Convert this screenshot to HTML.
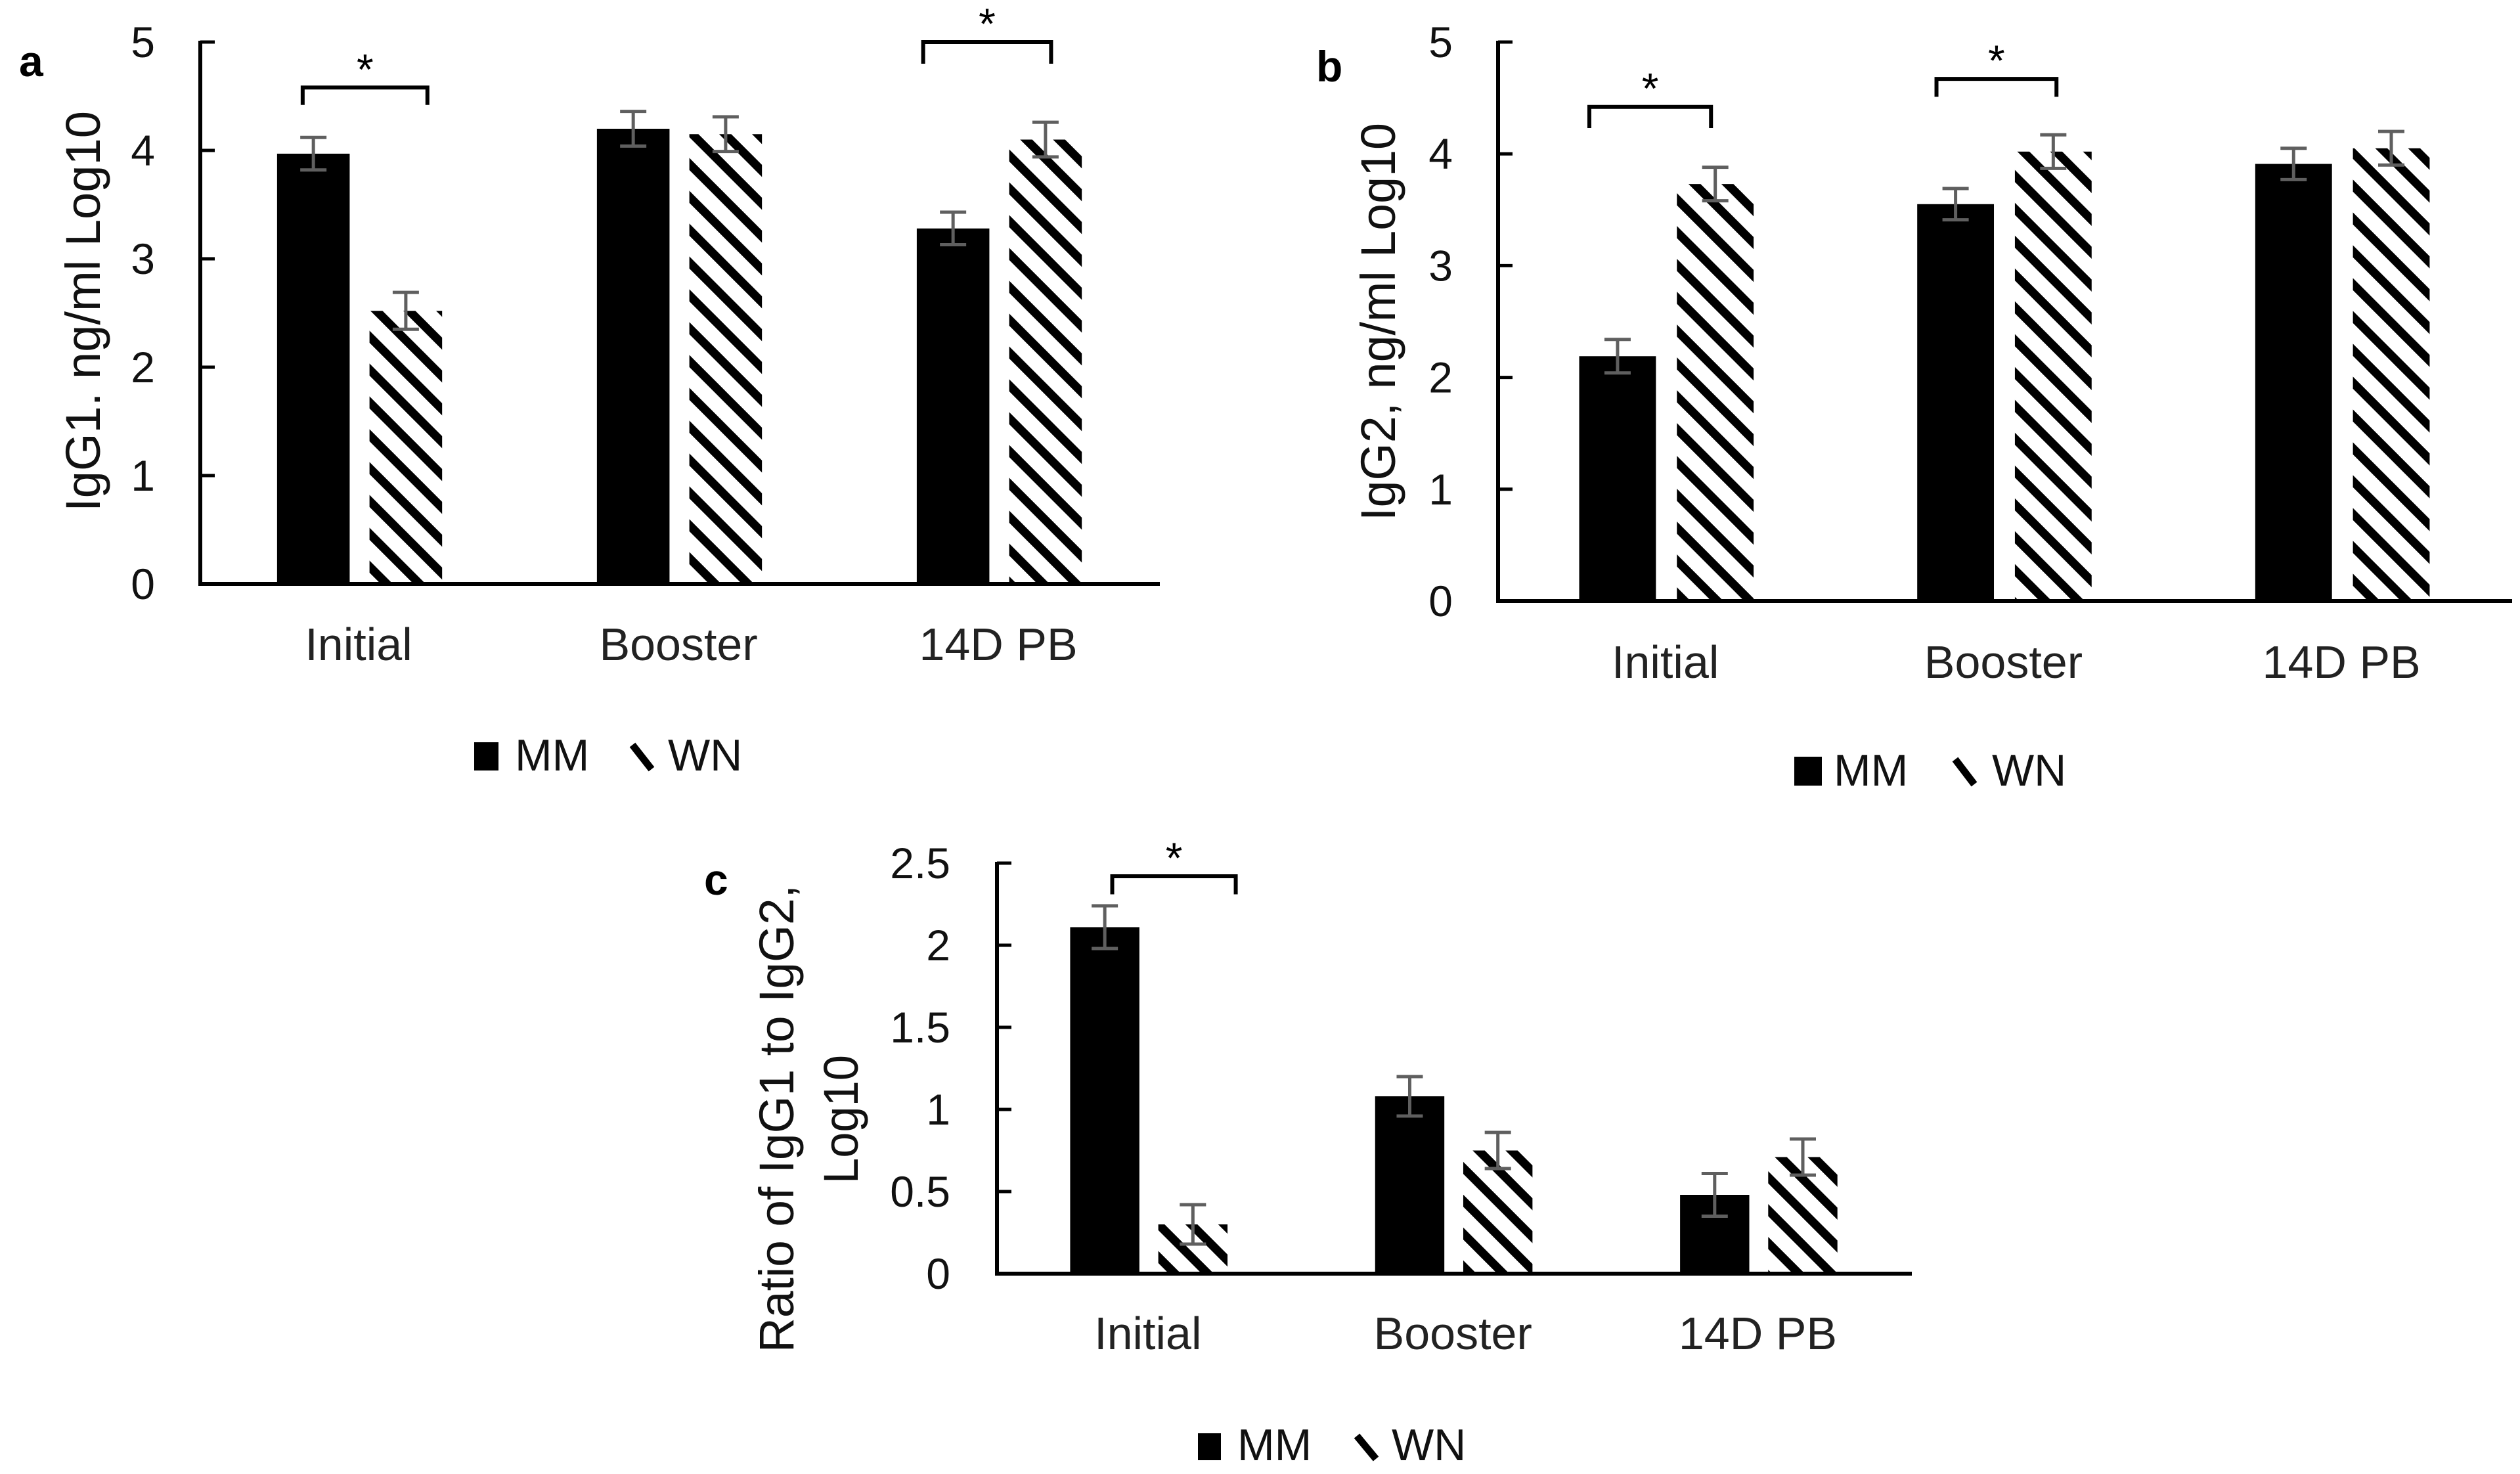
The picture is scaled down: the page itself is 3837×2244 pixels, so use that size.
<!DOCTYPE html>
<html>
<head>
<meta charset="utf-8">
<style>
html,body{margin:0;padding:0;background:#fff;}
svg{display:block;font-family:"Liberation Sans",Arial,sans-serif;}
</style>
</head>
<body>
<svg id="fig" width="3837" height="2244" viewBox="0 0 3837 2244" xmlns="http://www.w3.org/2000/svg">
<defs>
<pattern id="hatch" patternUnits="userSpaceOnUse" width="50" height="50">
<path d="M-12,-12 L62,62 M-12,38 L12,62 M38,-12 L62,12" stroke="#000" stroke-width="13"/>
</pattern>
</defs>
</svg>
<script>
// ---- data ----
const categories = ["Initial", "Booster", "14D PB"];
const seriesNames = ["MM", "WN"];
// Panel a: IgG1
const aMM = [3.97, 4.20, 3.28];
const aWN = [2.52, 4.15, 4.10];
const aMMerr = [0.15, 0.16, 0.15];
const aWNerr = [0.17, 0.16, 0.16];
// Panel b: IgG2
const bMM = [2.19, 3.55, 3.91];
const bWN = [3.73, 4.02, 4.05];
const bMMerr = [0.15, 0.14, 0.14];
const bWNerr = [0.15, 0.15, 0.15];
// Panel c: ratio
const cMM = [2.11, 1.08, 0.48];
const cWN = [0.30, 0.75, 0.71];
const cMMerr = [0.13, 0.12, 0.13];
const cWNerr = [0.12, 0.11, 0.11];
// ticks
const ticksAB = [0, 1, 2, 3, 4, 5];
const ticksC = [0, 0.5, 1, 1.5, 2, 2.5];
const tickLabelsC = ["0", "0.5", "1", "1.5", "2", "2.5"];
// significance brackets: [category index, bracket top value, leg bottom value]
const aSig = [[0, 4.58, 4.42], [2, 5.0, 4.80]];
const bSig = [[0, 4.42, 4.23], [1, 4.67, 4.51]];
const cSig = [[0, 2.42, 2.31]];

const NS = "http://www.w3.org/2000/svg";
const svg = document.getElementById("fig");
function mk(tag, attrs, parent) {
  const e = document.createElementNS(NS, tag);
  for (const k in attrs) e.setAttribute(k, attrs[k]);
  (parent || svg).appendChild(e);
  return e;
}

const panels = [
  {id:"a", x0:305, x1:1766, y0:889, yTop:64, max:5, ticks:ticksAB, tl:ticksAB.map(String),
   labelRight:236, catY:1005, mm:aMM, wn:aWN, mmE:aMMerr, wnE:aWNerr, sig:aSig,
   sigFrac:[[0.32,0.71],[0.26,0.66]],
   title:["IgG1.  ng/ml Log10"], titleX:[152], titleY1:[779], titleLen:[610],
   letter:{x:29,y:94},
   leg:{sqX:722, sqY:1130, sqW:37, sqH:43, mmX:784, glX:959, wnX:1017, base:1173}},
  {id:"b", x0:2281, x1:3825, y0:915, yTop:64, max:5, ticks:ticksAB, tl:ticksAB.map(String),
   labelRight:2212, catY:1032, mm:bMM, wn:bWN, mmE:bMMerr, wnE:bWNerr, sig:bSig,
   sigFrac:[[0.27,0.63],[0.297,0.652]],
   title:["IgG2,  ng/ml Log10"], titleX:[2124], titleY1:[793], titleLen:[606],
   letter:{x:2004,y:102},
   leg:{sqX:2732, sqY:1152, sqW:42, sqH:44, mmX:2792, glX:2973, wnX:3033, base:1196}},
  {id:"c", x0:1518, x1:2911, y0:1939, yTop:1314, max:2.5, ticks:ticksC, tl:tickLabelsC,
   labelRight:1447, catY:2054, mm:cMM, wn:cWN, mmE:cMMerr, wnE:cWNerr, sig:cSig,
   sigFrac:[[0.378,0.783]],
   title:["Ratio of IgG1 to IgG2,", "Log10"], titleX:[1208, 1306], titleY1:[2059, 1802], titleLen:[712, 196],
   letter:{x:1072,y:1340},
   leg:{sqX:1824, sqY:2182, sqW:35, sqH:41, mmX:1884, glX:2062, wnX:2119, base:2223}}
];

panels.forEach(p => {
  const g = mk("g", {});
  
  
  const yS = v => p.y0 - (v / p.max) * (p.y0 - p.yTop);
  const gw = (p.x1 - p.x0) / categories.length;
  const bw = 0.227 * gw, gap = 0.062 * gw;

  const L = mk("text", {x:p.letter.x, y:p.letter.y + 22, "font-size":66, "font-weight":"bold", fill:"#000"}, g);
  L.textContent = p.id;
  
  

  p.ticks.forEach((t, i) => {
    const y = yS(t);
    const tk = mk("line", {x1:p.x0, x2:p.x0 + 22, y1:y, y2:y, stroke:"#000", "stroke-width":5}, g);
    
    
    const tx = mk("text", {x:p.labelRight, y:y + 23, "font-size":66, "text-anchor":"end", fill:"#111"}, g);
    tx.textContent = p.tl[i];
    
    
  });

  categories.forEach((c, i) => {
    const gx = p.x0 + i * gw;
    const mx = gx + 0.24 * gw;
    const wx = mx + bw + gap;
    const r1 = mk("rect", {x:mx, y:yS(p.mm[i]), width:bw, height:p.y0 - yS(p.mm[i]), fill:"#000"}, g);
    
    
    const r2 = mk("rect", {x:wx, y:yS(p.wn[i]), width:bw, height:p.y0 - yS(p.wn[i]), fill:"url(#hatch)"}, g);
    
    
    [[mx, p.mm[i], p.mmE[i]], [wx, p.wn[i], p.wnE[i]]].forEach(([bx, v, e]) => {
      const cx = bx + bw / 2;
      const eg = mk("g", {stroke:"#5f5f5f", "stroke-width":5}, g);
      
      
      mk("line", {x1:cx, x2:cx, y1:yS(v + e), y2:yS(v - e)}, eg);
      mk("line", {x1:cx - 20, x2:cx + 20, y1:yS(v + e), y2:yS(v + e)}, eg);
      mk("line", {x1:cx - 20, x2:cx + 20, y1:yS(v - e), y2:yS(v - e)}, eg);
    });
    const cl = mk("text", {x:gx + gw * 0.495, y:p.catY, "font-size":70, "text-anchor":"middle", fill:"#222"}, g);
    cl.textContent = c;
    
    
  });

  const ya = mk("line", {x1:p.x0, x2:p.x0, y1:p.yTop - 2, y2:p.y0 + 3, stroke:"#000", "stroke-width":6}, g);
  
  
  const xa = mk("line", {x1:p.x0 - 3, x2:p.x1, y1:p.y0, y2:p.y0, stroke:"#000", "stroke-width":6}, g);
  
  

  p.sig.forEach((s, k) => {
    const gx = p.x0 + s[0] * gw;
    const xa1 = gx + p.sigFrac[k][0] * gw, xa2 = gx + p.sigFrac[k][1] * gw;
    const yt = yS(s[1]), yb = yS(s[2]);
    const br = mk("path", {d:`M${xa1},${yb} L${xa1},${yt} L${xa2},${yt} L${xa2},${yb}`, fill:"none", stroke:"#000", "stroke-width":6}, g);
    
    
    const st = mk("text", {x:(xa1 + xa2) / 2, y:yt - 5, "font-size":66, "text-anchor":"middle", fill:"#000"}, g);
    st.textContent = "*";
    
    
  });

  p.title.forEach((t, k) => {
    const tx = p.titleX[k], ty = p.titleY1[k];
    const tt = mk("text", {x:0, y:0, "font-size":74, fill:"#111", transform:`translate(${tx},${ty}) rotate(-90)`, textLength:p.titleLen[k], lengthAdjust:"spacingAndGlyphs"}, g);
    tt.textContent = t;
    
    
  });

  const lg = mk("g", {}, g);
  
  
  const sq = mk("rect", {x:p.leg.sqX, y:p.leg.sqY, width:p.leg.sqW, height:p.leg.sqH, fill:"#000"}, lg);
  
  
  const t1 = mk("text", {x:p.leg.mmX, y:p.leg.base, "font-size":68, fill:"#111"}, lg);
  t1.textContent = seriesNames[0];
  
  
  const gl = mk("line", {x1:p.leg.glX + 4, y1:p.leg.sqY + 4, x2:p.leg.glX + 33, y2:p.leg.base - 2, stroke:"#000", "stroke-width":11}, lg);
  
  
  const t2 = mk("text", {x:p.leg.wnX, y:p.leg.base, "font-size":68, fill:"#111"}, lg);
  t2.textContent = seriesNames[1];
  
  
});
</script>
</body>
</html>
